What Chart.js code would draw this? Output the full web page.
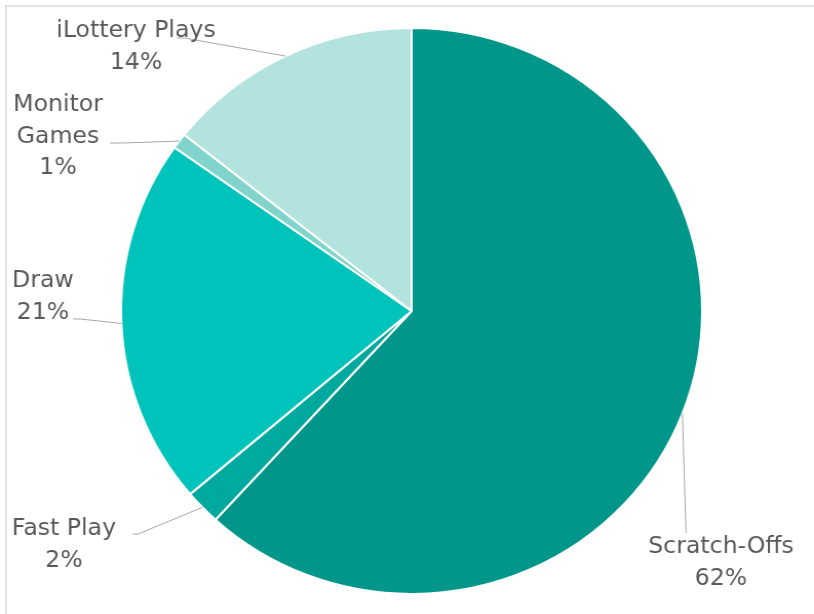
<!DOCTYPE html>
<html>
<head>
<meta charset="utf-8">
<script src="https://cdn.jsdelivr.net/npm/chart.js@4"></script>
<style>
    html, body { margin: 0; padding: 0; background: #ffffff; overflow: hidden; }
    .frame {
        position: absolute; left: 5px; top: 5px; width: 900px; height: 700px;
        border-top: 2px solid #e3e3e3; border-left: 2px solid #e3e3e3;
    }
    .chart-box {
        position: absolute; left: 0; top: 0; width: 793px; height: 614px;
        transform: scaleX(1.0265); transform-origin: 0 0;
    }
</style>
</head>
<body>
<div class="frame"></div>
<div class="chart-box"><canvas id="salesPie"></canvas></div>
<script>
// Share of sales by game type
const categories = ['Scratch-Offs', 'Fast Play', 'Draw', 'Monitor Games', 'iLottery Plays'];
const shareValues = [61.8, 2.0, 21.0, 0.9, 14.3];
const sliceColors = ['#00968a', '#00a99e', '#00c4bb', '#80d4cc', '#b3e3de'];

// Where each data label sits and where its leader line meets it
const labelLayout = [
    { x: 702.4, y: 553, lx: 668.3, ly: 533, elbow: 0 },
    { x: 62.3, y: 535, lx: 129.6, ly: 534, elbow: 5 },
    { x: 41.9, y: 287, lx: 71.1, ly: 319, elbow: 7 },
    { x: 56.5, y: 111, lx: 107.2, ly: 143, elbow: 12, wrap: true },
    { x: 132.5, y: 37, lx: 172.4, ly: 38, elbow: 7 }
];

const total = shareValues.reduce((a, b) => a + b, 0);

// Excel-style outside labels with leader lines
const pieLabels = {
    id: 'pieLabels',
    afterDraw(chart) {
        const ctx = chart.ctx;
        const meta = chart.getDatasetMeta(0);
        ctx.save();
        meta.data.forEach((arc, i) => {
            const p = arc.getProps(['x', 'y', 'startAngle', 'endAngle', 'outerRadius'], true);
            const mid = (p.startAngle + p.endAngle) / 2;
            const ax = p.x + Math.cos(mid) * p.outerRadius;
            const ay = p.y + Math.sin(mid) * p.outerRadius;
            const lay = labelLayout[i];

            // leader line
            ctx.strokeStyle = '#a6a6a6';
            ctx.lineWidth = 1;
            ctx.beginPath();
            ctx.moveTo(lay.lx, lay.ly);
            if (lay.elbow) ctx.lineTo(lay.lx + lay.elbow, lay.ly);
            ctx.lineTo(ax, ay);
            ctx.stroke();

            // label text
            const lines = lay.wrap ? categories[i].split(' ') : [categories[i]];
            lines.push(Math.round(shareValues[i] / total * 100) + '%');
            ctx.fillStyle = '#595959';
            ctx.font = '23px "DejaVu Sans"';
            ctx.textAlign = 'center';
            ctx.textBaseline = 'alphabetic';
            lines.forEach((t, k) => ctx.fillText(t, lay.x, lay.y + k * 31.5));
        });
        ctx.restore();
    }
};

new Chart(document.getElementById('salesPie').getContext('2d'), {
    type: 'pie',
    data: {
        labels: categories,
        datasets: [{
            data: shareValues,
            backgroundColor: sliceColors,
            borderColor: '#ffffff',
            borderWidth: 2
        }]
    },
    options: {
        responsive: true,
        maintainAspectRatio: false,
        animation: false,
        layout: { padding: { left: 117, right: 108, top: 27, bottom: 19 } },
        plugins: {
            legend: { display: false },
            tooltip: { enabled: false }
        }
    },
    plugins: [pieLabels]
});
</script>
</body>
</html>
